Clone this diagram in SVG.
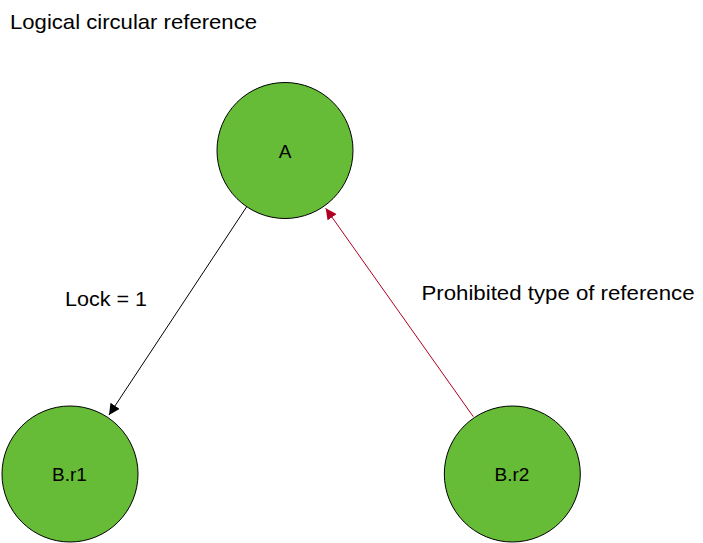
<svg xmlns="http://www.w3.org/2000/svg" width="703" height="543" viewBox="0 0 703 543">
  <style>
    .node { fill: #66bb37; stroke: #000; stroke-width: 1; }
    .lbl { font-family: "Liberation Sans", Arial, sans-serif; font-size: 19px; fill: #000; text-anchor: middle; }
    .txt { font-family: "Liberation Sans", Arial, sans-serif; font-size: 21px; fill: #000; }
  </style>
  <defs>
    <marker id="arrBlack" viewBox="0 0 10 10" refX="10" refY="5" markerWidth="11" markerHeight="11" markerUnits="userSpaceOnUse" orient="auto">
      <path d="M0,0 L10,5 L0,10 z" fill="#000"/>
    </marker>
    <marker id="arrRed" viewBox="0 0 10 10" refX="10" refY="5" markerWidth="11" markerHeight="11" markerUnits="userSpaceOnUse" orient="auto">
      <path d="M0,0 L10,5 L0,10 z" fill="#b00020"/>
    </marker>
  </defs>
  <rect width="703" height="543" fill="#fff"/>
  <text class="txt" x="10" y="29" textLength="247" lengthAdjust="spacingAndGlyphs">Logical circular reference</text>
  <g id="connectors">
    <line x1="246.5" y1="207" x2="109" y2="415" stroke="#000" stroke-width="1" marker-end="url(#arrBlack)"/>
    <line x1="473.3" y1="416.7" x2="325.7" y2="208.3" stroke="#b00020" stroke-width="1" marker-end="url(#arrRed)"/>
    <text class="txt" x="65" y="306" textLength="82" lengthAdjust="spacingAndGlyphs">Lock = 1</text>
    <text class="txt" x="421.5" y="300" textLength="273" lengthAdjust="spacingAndGlyphs">Prohibited type of reference</text>
  </g>
  <g id="node-A">
    <circle class="node" cx="285" cy="150.5" r="68"/>
    <text class="lbl" x="285" y="157.5">A</text>
  </g>
  <g id="node-Br1">
    <circle class="node" cx="70" cy="474" r="68"/>
    <text class="lbl" x="69.5" y="481">B.r1</text>
  </g>
  <g id="node-Br2">
    <circle class="node" cx="512.3" cy="474" r="68"/>
    <text class="lbl" x="512" y="481">B.r2</text>
  </g>
</svg>
